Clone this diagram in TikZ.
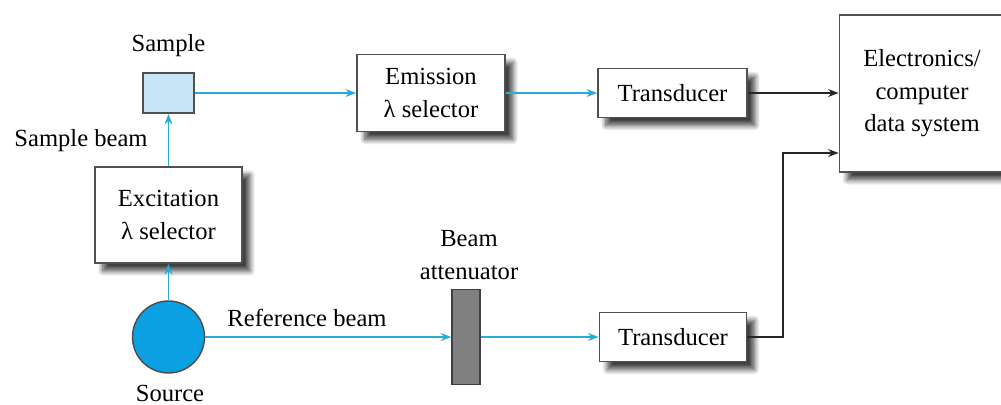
\documentclass[tikz,border=0pt]{standalone}
\usepackage{fontspec}
\setmainfont{Liberation Serif}
\newfontfamily\tmsfont{Liberation Serif}
\usetikzlibrary{arrows.meta,shadows.blur}
\definecolor{beamblue}{RGB}{40,172,215}
\definecolor{srcblue}{RGB}{10,160,225}
\definecolor{cellblue}{RGB}{200,230,248}
\definecolor{boxgray}{RGB}{80,80,80}
\begin{document}
\begin{tikzpicture}[x=0.02cm,y=-0.02cm,
                font=\tmsfont\fontsize{14}{18.5}\selectfont,
                unit/.style={rectangle,draw=boxgray,fill=white,line width=1pt,
                inner sep=0pt,align=center,
                blur shadow={shadow xshift=4.5pt,shadow yshift=-4.5pt,
                shadow blur radius=3pt,shadow blur steps=8,shadow opacity=75}},
                beam/.style={draw=beamblue,line width=0.8pt,
                -{Stealth[length=6pt,width=4.5pt]}},
                wire/.style={draw=black!85,line width=0.8pt,
                -{Stealth[length=6pt,width=4.5pt]}},
                lbl/.style={inner sep=0pt,align=center}]
                \useasboundingbox (0,0) rectangle (1001,405);
                % optical units
                \node (smp) at (168.5,93) [rectangle,draw=boxgray,fill=cellblue,line width=1pt,
                minimum width=1.02cm,minimum height=0.8cm] {};
                \node (exc) at (168.5,215) [unit,minimum width=2.94cm,minimum height=1.92cm]
                {Excitation\\λ selector};
                \node (src) at (168.5,337) [circle,draw=black!70,fill=srcblue,line width=0.8pt,
                inner sep=0pt,minimum size=1.44cm] {};
                \node (emis) at (431,93) [unit,minimum width=2.96cm,minimum height=1.54cm]
                {Emission\\λ selector};
                \node (atten) at (466,337) [rectangle,draw=black!75,fill=black!50,line width=0.8pt,
                inner sep=0pt,minimum width=0.56cm,minimum height=1.9cm] {};
                \node (trans1) at (672.5,93) [unit,minimum width=2.98cm,minimum height=0.98cm]
                {Transducer};
                \node (trans2) at (673,337) [unit,minimum width=2.94cm,minimum height=0.98cm]
                {Transducer};
                \node (data) at (922,93.5) [unit,minimum width=3.3cm,minimum height=3.14cm]
                {Electronics/\\computer\\data system};
                % labels
                \node (smplbl) at (168.5,46) [lbl] {Sample};
                \node (smpbeam) at (81,141) [lbl] {Sample beam};
                \node (srclbl) at (170,393) [lbl] {Source};
                \node (reflbl) at (307,318) [lbl] {Reference beam};
                \node (attlbl) at (469,255) [lbl] {Beam\\attenuator};
                % beams and wires
                \coordinate (bend) at (783,153);
                \draw[beam] (src) -- (exc);
                \draw[beam] (exc) -- (smp);
                \draw[beam] (smp) -- (emis);
                \draw[beam] (emis) -- (trans1);
                \draw[beam] (src) -- (atten);
                \draw[beam] (atten) -- (trans2);
                \draw[wire] (trans1) -- (data.west |- trans1);
                \draw[wire] (trans2.east) -| (bend) -- (data.west |- bend);
            \end{tikzpicture}
\end{document}
